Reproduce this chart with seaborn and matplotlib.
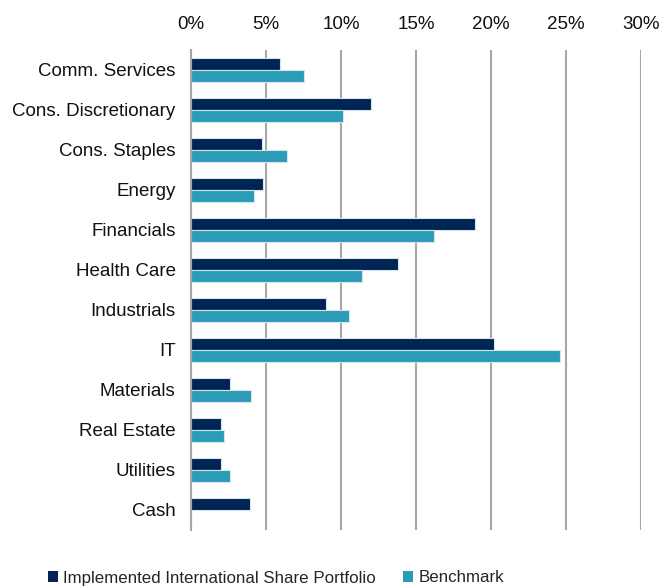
import pandas as pd
import matplotlib.pyplot as plt
import seaborn as sns
from matplotlib.ticker import FuncFormatter
from matplotlib.patches import Patch

sectors = ['Comm. Services', 'Cons. Discretionary', 'Cons. Staples', 'Energy',
           'Financials', 'Health Care', 'Industrials', 'IT', 'Materials',
           'Real Estate', 'Utilities', 'Cash']
portfolio = [5.9, 12.0, 4.7, 4.8, 18.9, 13.8, 9.0, 20.2, 2.6, 2.0, 2.0, 3.9]
benchmark = [7.5, 10.1, 6.4, 4.2, 16.2, 11.4, 10.5, 24.6, 4.0, 2.2, 2.6, 0.0]
series = ['Implemented International Share Portfolio', 'Benchmark']
colors = ['#002554', '#2b9cb8']

df = pd.DataFrame({
    'Sector': sectors * 2,
    'Weight': portfolio + benchmark,
    'Series': [series[0]] * len(sectors) + [series[1]] * len(sectors),
})

sns.set_style('white')
plt.rcParams['font.family'] = ['Liberation Sans', 'DejaVu Sans']
plt.rcParams['font.size'] = 13.5

fig = plt.figure(figsize=(6.62, 5.87), dpi=100)
ax = fig.add_axes([191 / 662, 57 / 587, 450 / 662, 480 / 587])

sns.barplot(data=df, y='Sector', x='Weight', hue='Series', order=sectors,
            hue_order=series, palette=colors, saturation=1, width=0.6,
            orient='h', edgecolor='#d5e3ec', linewidth=0.8, ax=ax,
            legend=False)

ax.set_xlim(0, 30)
ax.set_xticks(range(0, 31, 5))
ax.xaxis.set_major_formatter(FuncFormatter(lambda v, p: f'{int(v)}%'))
ax.xaxis.tick_top()
ax.tick_params(axis='x', length=0, pad=12, labelsize=13.5, colors='#111111')
ax.tick_params(axis='y', length=0, pad=11, labelsize=13.5, colors='#111111')
ax.set_xlabel('')
ax.set_ylabel('')
ax.grid(axis='x', color='#a6a6a6', linewidth=1.5)
ax.set_axisbelow(True)
for side in ['top', 'right', 'bottom']:
    ax.spines[side].set_visible(False)
ax.spines['left'].set_color('#a6a6a6')
ax.spines['left'].set_linewidth(1.5)

handles = [Patch(facecolor=c, edgecolor='none') for c in colors]
fig.legend(handles, series, loc='center', bbox_to_anchor=(276 / 662, 9 / 587),
           ncol=2, frameon=False, handlelength=0.6, handleheight=0.6,
           handletextpad=0.3, columnspacing=1.6, borderpad=0, fontsize=12.2)

plt.savefig('out.png', dpi=100)
